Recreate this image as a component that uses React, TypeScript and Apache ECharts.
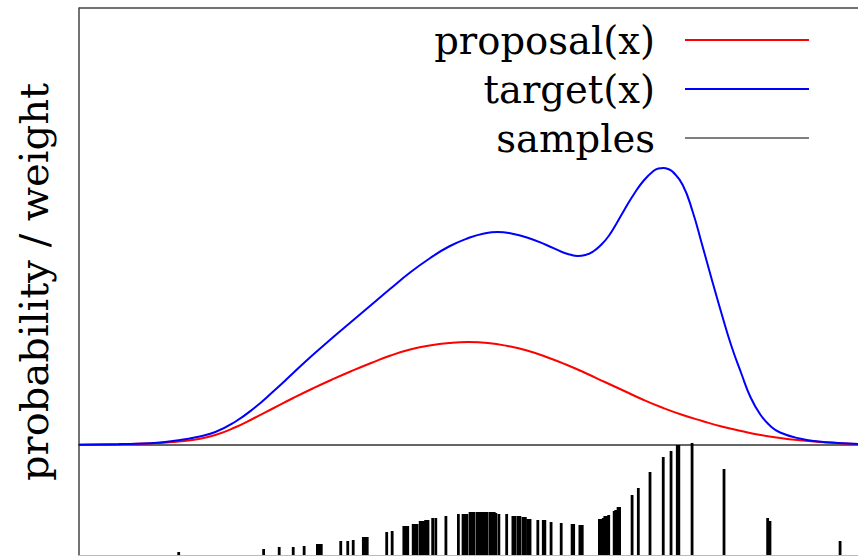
import React, { useEffect, useRef } from "react";
import * as echarts from "echarts";

// x domain 0..10, density units
const targetCurve: [number, number][] = [
  [0.0, 0.003], [0.25, 0.005], [0.5, 0.008], [0.75, 0.013], [1.0, 0.022], [1.25, 0.045],
  [1.5, 0.078], [1.75, 0.13], [2.0, 0.23], [2.25, 0.37], [2.5, 0.54], [2.75, 0.72],
  [3.0, 0.9], [3.25, 1.07], [3.5, 1.235], [3.75, 1.4], [4.0, 1.565], [4.25, 1.725],
  [4.5, 1.865], [4.75, 1.985], [5.0, 2.07], [5.2, 2.115], [5.375, 2.13], [5.55, 2.115],
  [5.75, 2.075], [6.0, 2.0], [6.2, 1.93], [6.3, 1.905], [6.4, 1.89], [6.5, 1.9],
  [6.6, 1.935], [6.7, 2.0], [6.8, 2.09], [6.9, 2.215], [7.0, 2.35], [7.125, 2.51],
  [7.25, 2.645], [7.375, 2.74], [7.4375, 2.765], [7.5, 2.77], [7.5625, 2.76], [7.625, 2.73],
  [7.75, 2.6], [7.875, 2.34], [8.0, 2.0], [8.125, 1.65], [8.25, 1.31], [8.375, 0.99],
  [8.5, 0.72], [8.625, 0.47], [8.75, 0.3], [8.875, 0.19], [9.0, 0.125], [9.25, 0.065],
  [9.5, 0.035], [9.75, 0.02], [10.0, 0.01],
];

const proposalCurve: [number, number][] = [
  [0.0, 0.003], [0.25, 0.005], [0.5, 0.008], [0.75, 0.012], [1.0, 0.02], [1.25, 0.032],
  [1.5, 0.055], [1.75, 0.1], [2.0, 0.175], [2.25, 0.27], [2.5, 0.37], [2.75, 0.47],
  [3.0, 0.565], [3.25, 0.655], [3.5, 0.74], [3.75, 0.82], [4.0, 0.895], [4.25, 0.955],
  [4.5, 0.995], [4.75, 1.02], [5.0, 1.03], [5.25, 1.02], [5.5, 0.99], [5.75, 0.945],
  [6.0, 0.88], [6.25, 0.805], [6.5, 0.72], [6.75, 0.63], [7.0, 0.54], [7.25, 0.45],
  [7.5, 0.37], [7.75, 0.3], [8.0, 0.24], [8.25, 0.185], [8.5, 0.14], [8.75, 0.1],
  [9.0, 0.07], [9.25, 0.047], [9.5, 0.03], [9.75, 0.018], [10.0, 0.01],
];

// sample positions and importance weights
const sampleX: number[] = [
  1.28, 2.37, 2.57, 2.75, 2.89, 3.06, 3.08, 3.11, 3.36, 3.45, 3.52, 3.65, 3.67, 3.7,
  3.95, 4.02, 4.17, 4.2, 4.22, 4.29, 4.31, 4.34, 4.38, 4.4, 4.43, 4.45, 4.48, 4.54,
  4.58, 4.71, 4.87, 4.93, 4.96, 4.98, 5.02, 5.04, 5.07, 5.11, 5.13, 5.16, 5.19, 5.21,
  5.24, 5.28, 5.3, 5.33, 5.35, 5.39, 5.49, 5.57, 5.6, 5.64, 5.66, 5.7, 5.73, 5.76,
  5.79, 5.89, 5.96, 5.98, 6.06, 6.19, 6.33, 6.35, 6.43, 6.46, 6.68, 6.7, 6.73, 6.75,
  6.78, 6.8, 6.87, 6.89, 6.92, 6.94, 7.1, 7.18, 7.33, 7.5, 7.6, 7.68, 7.7, 7.87,
  8.28, 8.84, 8.87, 9.77,
];
const sampleW: number[] = [
  0.03, 0.06, 0.08, 0.08, 0.09, 0.11, 0.11, 0.11, 0.14, 0.14, 0.15, 0.18, 0.18, 0.18,
  0.23, 0.24, 0.29, 0.29, 0.29, 0.31, 0.31, 0.31, 0.34, 0.34, 0.34, 0.35, 0.35, 0.37,
  0.37, 0.39, 0.41, 0.41, 0.41, 0.41, 0.43, 0.43, 0.43, 0.43, 0.43, 0.43, 0.43, 0.43,
  0.43, 0.43, 0.43, 0.43, 0.42, 0.41, 0.41, 0.39, 0.39, 0.39, 0.39, 0.38, 0.38, 0.36,
  0.36, 0.35, 0.35, 0.35, 0.33, 0.32, 0.31, 0.31, 0.3, 0.3, 0.36, 0.36, 0.37, 0.39,
  0.39, 0.4, 0.44, 0.45, 0.48, 0.48, 0.6, 0.67, 0.83, 0.98, 1.04, 1.1, 1.1, 1.12,
  0.86, 0.37, 0.34, 0.14,
];

const legendNames = ["proposal(x)", "target(x)", "samples"];
const yLabel = "probability / weight";

export default function App() {
  const ref = useRef<HTMLDivElement>(null);
  useEffect(() => {
    document.body.style.margin = "0";
    const chart = echarts.init(ref.current!, null, { renderer: "svg" });
    const serif = "DejaVu Serif";
    const samples = sampleX.map((x, i) => [x, sampleW[i]]);
    const legendColors = ["#ff0000", "#0000ff", "#000000"];
    const legendWidths = [2, 2, 1.2];
    const legendY = [40, 89, 138];
    const graphics: any[] = [
      { type: "line", shape: { x1: 79, y1: 8, x2: 858, y2: 8 }, style: { stroke: "#444", lineWidth: 1.5 } },
      {
        type: "text",
        x: 34,
        y: 282,
        rotation: Math.PI / 2,
        style: {
          text: yLabel, fontFamily: serif, fontSize: 40, fill: "#000",
          align: "center", verticalAlign: "middle",
        },
      },
    ];
    legendNames.forEach((n, i) => {
      graphics.push({
        type: "text",
        x: 655,
        y: legendY[i],
        style: {
          text: n, fontFamily: serif, fontSize: 38.5, fill: "#000",
          align: "right", verticalAlign: "middle",
        },
      });
      graphics.push({
        type: "line",
        shape: { x1: 685, y1: legendY[i], x2: 809, y2: legendY[i] },
        style: { stroke: legendColors[i], lineWidth: legendWidths[i] },
      });
    });
    chart.setOption({
      animation: false,
      grid: [
        { left: 79, right: 0, top: 8, height: 437 },
        { left: 79, right: 0, top: 445, bottom: 1 },
      ],
      xAxis: [
        {
          type: "value", gridIndex: 0, min: 0, max: 10,
          axisLine: { show: true, onZero: false, lineStyle: { color: "#333", width: 1.5 } },
          axisTick: { show: false }, axisLabel: { show: false }, splitLine: { show: false },
        },
        {
          type: "value", gridIndex: 1, min: 0, max: 10,
          axisLine: { show: true, onZero: false, lineStyle: { color: "#bbb", width: 1 } },
          axisTick: { show: false }, axisLabel: { show: false }, splitLine: { show: false },
        },
      ],
      yAxis: [
        {
          type: "value", gridIndex: 0, min: 0, max: 4.37,
          axisLine: { show: true, lineStyle: { color: "#444", width: 1.5 } },
          axisTick: { show: false }, axisLabel: { show: false }, splitLine: { show: false },
        },
        {
          type: "value", gridIndex: 1, min: 0, max: 1.1,
          axisLine: { show: true, lineStyle: { color: "#444", width: 1.5 } },
          axisTick: { show: false }, axisLabel: { show: false }, splitLine: { show: false },
        },
      ],
      series: [
        {
          name: legendNames[0], type: "line", xAxisIndex: 0, yAxisIndex: 0, data: proposalCurve,
          smooth: 0.5, showSymbol: false, lineStyle: { color: "#ff0000", width: 2 }, z: 3,
        },
        {
          name: legendNames[1], type: "line", xAxisIndex: 0, yAxisIndex: 0, data: targetCurve,
          smooth: 0.5, showSymbol: false, lineStyle: { color: "#0000ff", width: 2 }, z: 4,
        },
        {
          name: legendNames[2], type: "bar", xAxisIndex: 1, yAxisIndex: 1, data: samples,
          barWidth: 2.8, clip: false, itemStyle: { color: "#000" },
        },
      ],
      graphic: graphics,
    });
    return () => chart.dispose();
  }, []);
  return <div ref={ref} style={{ position: "absolute", left: 0, top: 0, width: 858, height: 556 }} />;
}
